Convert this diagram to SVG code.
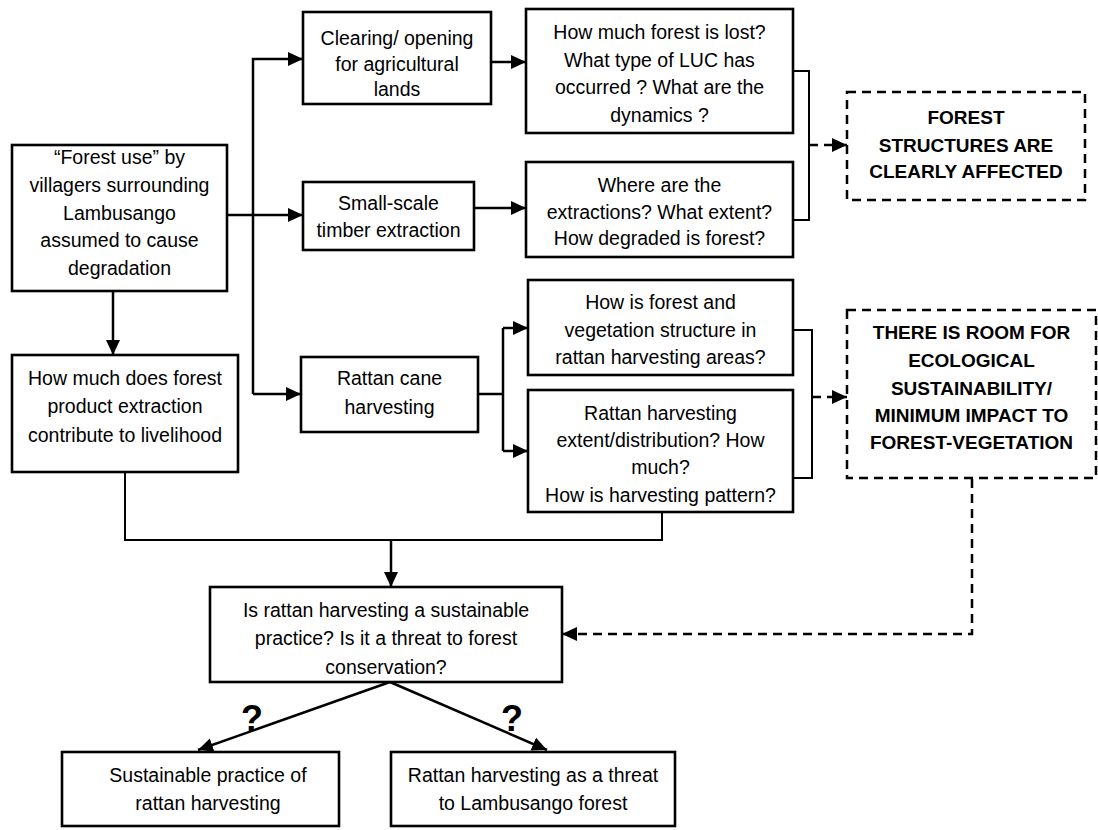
<svg xmlns="http://www.w3.org/2000/svg" width="1098" height="830" viewBox="0 0 1098 830">
<style>
.box{fill:#fff;stroke:#000;stroke-width:2.6}
.dbox{fill:#fff;stroke:#000;stroke-width:2.5;stroke-dasharray:9 6}
.t{font-family:"Liberation Sans",Arial,sans-serif;font-size:19.5px;text-anchor:middle;fill:#000}
.b{font-family:"Liberation Sans",Arial,sans-serif;font-size:19px;font-weight:bold;text-anchor:middle;fill:#000}
.q{font-family:"Liberation Sans",Arial,sans-serif;font-size:36px;font-weight:bold;text-anchor:middle;fill:#000}
.c{fill:none;stroke:#000;stroke-width:2.5}
.thin{fill:none;stroke:#000;stroke-width:2}
.d{fill:none;stroke:#000;stroke-width:2.5;stroke-dasharray:9 6}
</style>
<defs>
<marker id="ah" markerUnits="userSpaceOnUse" markerWidth="16" markerHeight="16" refX="15" refY="7" orient="auto">
<path d="M0,0 L15,7 L0,14 z" fill="#000"/>
</marker>
</defs>
<rect width="1098" height="830" fill="#fff"/>
<g id="connectors">
<path class="c" d="M227,215 H303" marker-end="url(#ah)"/>
<path class="c" d="M253,394 V59 H303" marker-end="url(#ah)"/>
<path class="c" d="M253,394 H301" marker-end="url(#ah)"/>
<path class="c" d="M491,62 H526" marker-end="url(#ah)"/>
<path class="c" d="M474,208 H526" marker-end="url(#ah)"/>
<path class="c" d="M113,291 V355" marker-end="url(#ah)"/>
<path class="c" d="M478,394 H503"/>
<path class="c" d="M503,328 V451"/>
<path class="c" d="M503,328 H528" marker-end="url(#ah)"/>
<path class="c" d="M503,451 H528" marker-end="url(#ah)"/>
<path class="thin" d="M793,71 H809 V220 H793"/>
<path class="d" d="M809,145 H847" marker-end="url(#ah)"/>
<path class="thin" d="M793,330 H812 V478 H793"/>
<path class="d" d="M812,397 H847" marker-end="url(#ah)"/>
<path class="thin" d="M125,472 V540 H662 V512"/>
<path class="c" d="M391,540 V587" marker-end="url(#ah)"/>
<path class="d" d="M972,479 V634 H562" marker-end="url(#ah)"/>
<path class="c" d="M390,682 L198,750" marker-end="url(#ah)"/>
<path class="c" d="M390,682 L547,750" marker-end="url(#ah)"/>
</g>
<g id="forest-use">
<rect class="box" x="12" y="145" width="215" height="146"/>
<text class="t" x="119.5" y="164">“Forest use” by</text>
<text class="t" x="119.5" y="192">villagers surrounding</text>
<text class="t" x="119.5" y="220">Lambusango</text>
<text class="t" x="119.5" y="247">assumed to cause</text>
<text class="t" x="119.5" y="275">degradation</text>
</g>
<g id="clearing">
<rect class="box" x="303" y="12" width="188" height="92"/>
<text class="t" x="397" y="45">Clearing/ opening</text>
<text class="t" x="397" y="71">for agricultural</text>
<text class="t" x="397" y="96">lands</text>
</g>
<g id="q-forest-lost">
<rect class="box" x="526" y="9" width="267" height="124"/>
<text class="t" x="659.5" y="39">How much forest is lost?</text>
<text class="t" x="659.5" y="67">What type of LUC has</text>
<text class="t" x="659.5" y="94">occurred ? What are the</text>
<text class="t" x="659.5" y="122">dynamics ?</text>
</g>
<g id="small-scale">
<rect class="box" x="303" y="182" width="171" height="68"/>
<text class="t" x="388.5" y="210">Small-scale</text>
<text class="t" x="388.5" y="237">timber extraction</text>
</g>
<g id="q-extractions">
<rect class="box" x="526" y="162" width="267" height="95"/>
<text class="t" x="659.5" y="192">Where are the</text>
<text class="t" x="659.5" y="219">extractions? What extent?</text>
<text class="t" x="659.5" y="245">How degraded is forest?</text>
</g>
<g id="forest-affected">
<rect class="dbox" x="847" y="92" width="238" height="108"/>
<text class="b" x="966" y="124">FOREST</text>
<text class="b" x="966" y="152">STRUCTURES ARE</text>
<text class="b" x="966" y="178">CLEARLY AFFECTED</text>
</g>
<g id="rattan-cane">
<rect class="box" x="301" y="357" width="177" height="75"/>
<text class="t" x="389.5" y="385">Rattan cane</text>
<text class="t" x="389.5" y="414">harvesting</text>
</g>
<g id="q-structure">
<rect class="box" x="528" y="280" width="265" height="95"/>
<text class="t" x="660.5" y="309">How is forest and</text>
<text class="t" x="660.5" y="337">vegetation structure in</text>
<text class="t" x="660.5" y="364">rattan harvesting areas?</text>
</g>
<g id="q-extent">
<rect class="box" x="528" y="390" width="265" height="122"/>
<text class="t" x="660.5" y="420">Rattan harvesting</text>
<text class="t" x="660.5" y="447">extent/distribution? How</text>
<text class="t" x="660.5" y="474">much?</text>
<text class="t" x="660.5" y="502">How is harvesting pattern?</text>
</g>
<g id="room-sustainability">
<rect class="dbox" x="847" y="310" width="249" height="168"/>
<text class="b" x="971.5" y="339">THERE IS ROOM FOR</text>
<text class="b" x="971.5" y="367">ECOLOGICAL</text>
<text class="b" x="971.5" y="395">SUSTAINABILITY/</text>
<text class="b" x="971.5" y="422">MINIMUM IMPACT TO</text>
<text class="b" x="971.5" y="449">FOREST-VEGETATION</text>
</g>
<g id="livelihood">
<rect class="box" x="12" y="355" width="226" height="117"/>
<text class="t" x="125" y="385">How much does forest</text>
<text class="t" x="125" y="413">product extraction</text>
<text class="t" x="125" y="442">contribute to livelihood</text>
</g>
<g id="main-question">
<rect class="box" x="210" y="587" width="352" height="95"/>
<text class="t" x="386" y="617">Is rattan harvesting a sustainable</text>
<text class="t" x="386" y="645">practice? Is it a threat to forest</text>
<text class="t" x="386" y="674">conservation?</text>
</g>
<g id="marks">
<text class="q" x="252" y="731">?</text>
<text class="q" x="512" y="731">?</text>
</g>
<g id="sustainable-practice">
<rect class="box" x="62" y="752" width="277" height="74"/>
<text class="t" x="208" y="782">Sustainable practice of</text>
<text class="t" x="208" y="810">rattan harvesting</text>
</g>
<g id="threat">
<rect class="box" x="391" y="752" width="284" height="74"/>
<text class="t" x="533" y="782">Rattan harvesting as a threat</text>
<text class="t" x="533" y="810">to Lambusango forest</text>
</g>
</svg>
